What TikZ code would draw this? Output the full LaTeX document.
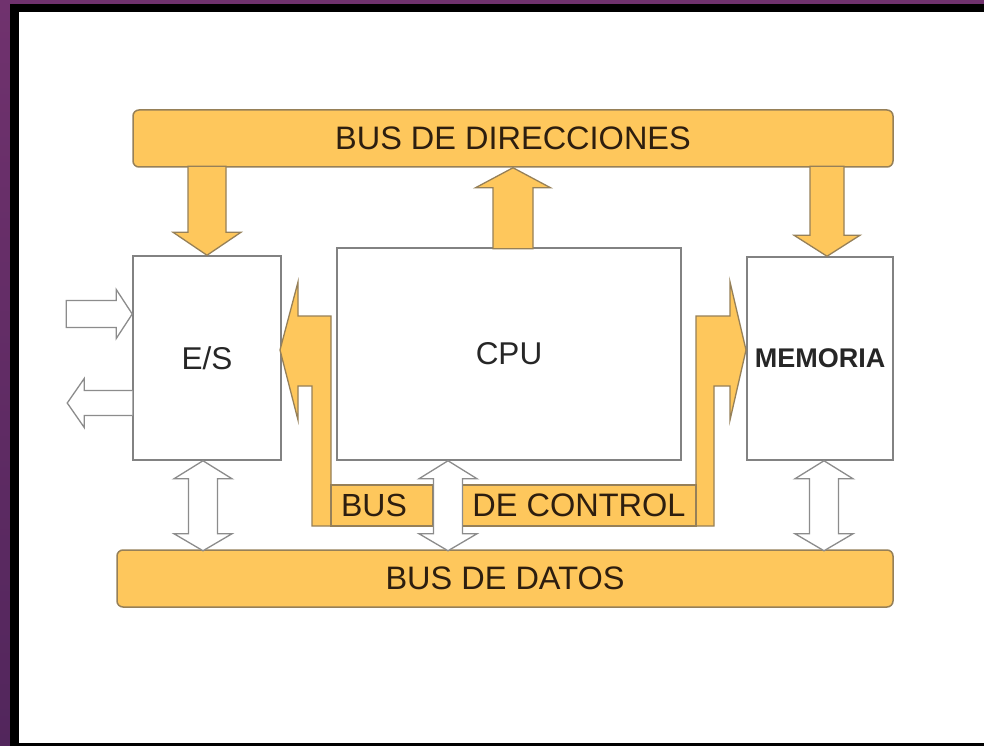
\documentclass[tikz,border=0pt]{standalone}
\usepackage{fontspec}
\setmainfont{Liberation Sans}
\usetikzlibrary{calc}
\definecolor{busfill}{RGB}{254,199,92}
\definecolor{busedge}{RGB}{150,128,88}
\definecolor{boxedge}{RGB}{130,130,130}
\definecolor{hedge}{RGB}{140,140,140}
\definecolor{bustxt}{RGB}{45,30,15}
\definecolor{purpletop}{RGB}{112,50,110}
\definecolor{purplebot}{RGB}{82,38,92}
\tikzset{
  bus/.style={draw=busedge, fill=busfill, line width=1.5pt, rounded corners=6pt, inner sep=0pt,
    font=\fontsize{32.5}{32.5}\selectfont, text=bustxt},
  strip/.style={draw=busedge, fill=busfill, line width=1.3pt, inner sep=0pt,
    font=\fontsize{32.5}{32.5}\selectfont, text=bustxt},
  bustext/.style={inner sep=0pt, font=\fontsize{32}{32}\selectfont, text=bustxt},
  box/.style={draw=boxedge, fill=white, line width=1.5pt, inner sep=0pt, text=black!85},
  oarrow/.style={draw=busedge, fill=busfill, line width=1.3pt, line join=miter},
  hollow/.style={draw=hedge, fill=white, line width=1.3pt, line join=miter},
  pics/bidir/.style={code={
    \draw[hollow] (0,0) -- (29,18) -- (14.5,18) -- (14.5,73) -- (29,73) -- (0,90)
      -- (-29,73) -- (-14.5,73) -- (-14.5,18) -- (-29,18) -- cycle;}}
}
\begin{document}
\begin{tikzpicture}[x=1pt,y=-1pt]
\useasboundingbox (0,0) rectangle (984,746);
% frame
\shade[top color=purpletop, bottom color=purplebot] (0,0) rectangle (984,746);
\fill[black] (10,4) rectangle (984,746);
\fill[white] (19,12) rectangle (984,743);

% buses
\node[bus, minimum width=760pt, minimum height=57pt] (dir) at (513,138.5) {BUS DE DIRECCIONES};
\node[bus, minimum width=776pt, minimum height=57pt] (datos) at (505,578.5) {BUS DE DATOS};

% blocks
\node[box, minimum width=148pt, minimum height=204pt, font=\fontsize{31.5}{31.5}\selectfont] (es) at (207,358) {E/S};
\node[box, minimum width=344pt, minimum height=212pt, font=\fontsize{31.5}{31.5}\selectfont] (cpu) at (509,354) {CPU};
\node[box, minimum width=146pt, minimum height=203pt, font=\bfseries\fontsize{27}{27}\selectfont] (mem) at (820,358.5) {MEMORIA};

% control bus
\draw[oarrow] (312,526) -- (312,386) -- (298,386) -- (298,420) -- (280,350) -- (298,282)
  -- (298,316) -- (331,316) -- (331,526) -- cycle;
\draw[oarrow] (714,526) -- (714,386) -- (730,386) -- (730,420) -- (746,350) -- (730,282)
  -- (730,316) -- (696,316) -- (696,526) -- cycle;
\node[strip, minimum width=102pt, minimum height=41pt] (sbus) at (382,505.5) {};
\node[strip, minimum width=234pt, minimum height=41pt] (sctl) at (579,505.5) {DE CONTROL};
\node[bustext] (tbus) at (374,505.5) {BUS};

% address bus arrows
\draw[oarrow] (es.north) -- ++(34,-23) -- ++(-15,0) -- ++(0,-66) -- ++(-38,0) -- ++(0,66) -- ++(-15,0) -- cycle;
\draw[oarrow] (dir.south) -- ++(37.5,20) -- ++(-17.5,0) -- ++(0,61) -- ++(-40,0) -- ++(0,-61) -- ++(-17.5,0) -- cycle;
\draw[oarrow] ($(mem.north)+(7,0)$) -- ++(33,-21) -- ++(-16,0) -- ++(0,-69) -- ++(-34,0) -- ++(0,69) -- ++(-16,0) -- cycle;

% data bus arrows
\pic (bes) at ($(es.south)+(-4,0)$) {bidir};
\pic (bcpu) at ($(cpu.south)+(-61,0)$) {bidir};
\pic (bmem) at ($(mem.south)+(4,0)$) {bidir};

% external I/O arrows
\draw[hollow] ($(es.west)+(0,-44)$) -- ++(-16,-24.5) -- ++(0,11) -- ++(-50,0) -- ++(0,27) -- ++(50,0) -- ++(0,11) -- cycle;
\draw[hollow] ($(es.west)+(0,32.5)$) -- ++(-48,0) -- ++(0,-12) -- ++(-17,24.5) -- ++(17,24.5) -- ++(0,-12) -- ++(48,0);
\end{tikzpicture}
\end{document}
